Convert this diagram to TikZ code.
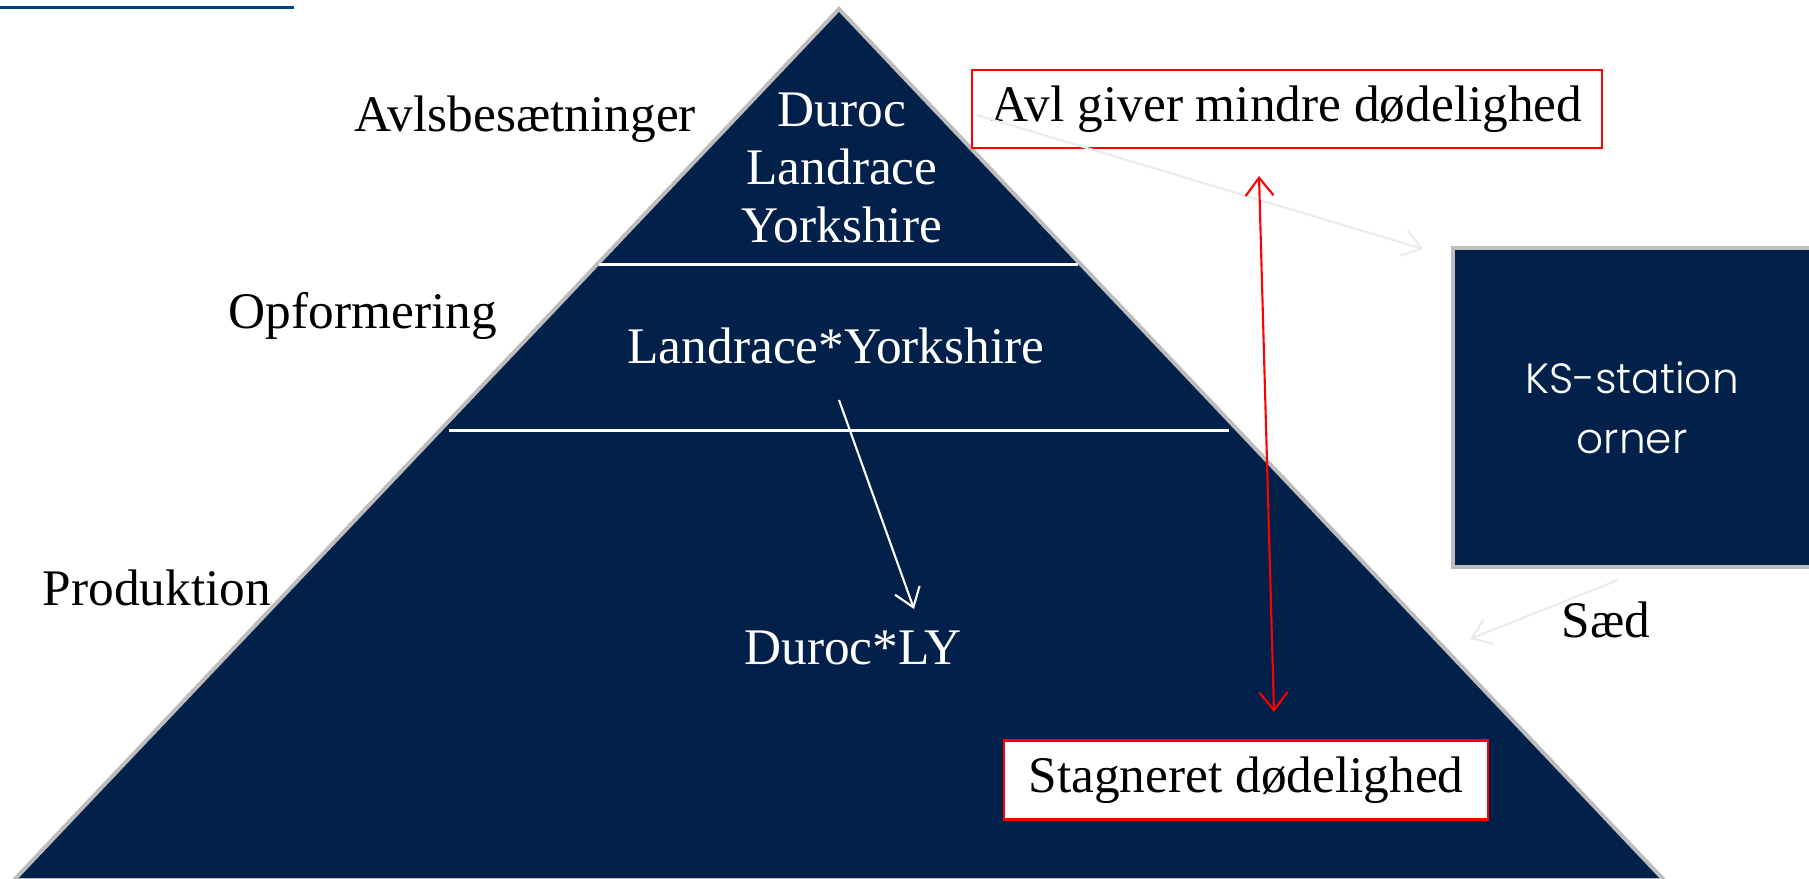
\documentclass[tikz,border=0pt]{standalone}
\usepackage{fontspec}
\setmainfont{Liberation Serif}
\newfontfamily\ksfont{Poppins Light}
\usepackage{tikz}
\usetikzlibrary{arrows.meta}
\definecolor{pyrblue}{HTML}{02214A}
\definecolor{pyredge}{HTML}{BDBDBD}
\definecolor{topline}{HTML}{003F8C}
\definecolor{faint}{HTML}{EBEBEB}

\begin{document}
\begin{tikzpicture}
  [x=0.01cm,y=-0.01cm,
   every node/.style={font=\fontsize{14.6pt}{16.5pt}\selectfont,inner sep=0pt},
   inpyr/.style={text=white,align=center},
   redbox/.style={draw=red,fill=white,line width=0.6pt},
   barb/.style={line width=0.6pt,-{Straight Barb[length=0.18cm,width=0.26cm]}}]
  \useasboundingbox (0,0) rectangle (1809,878);
  \draw[topline,line width=0.03cm] (0,7.5) -- (294,7.5);
  \draw[pyredge,line width=0.04cm,fill=pyrblue] (839,9) -- (1664,880) -- (14,880) -- cycle;
  \draw[white,line width=0.03cm] (599,264) -- (1078,264);
  \draw[white,line width=0.03cm] (449,430) -- (1229,430);
  \node[inpyr] (breeds) at (842,168) {Duroc\\Landrace\\Yorkshire};
  \node[inpyr] (ly) at (836,346) {Landrace*Yorkshire};
  \node[inpyr] (dly) at (853,648) {Duroc*LY};
  \node[anchor=west] (avls) at (354,119) {Avlsbesætninger};
  \node[anchor=west] (opf) at (228,316) {Opformering};
  \node[anchor=west] (prod) at (42,588) {Produktion};
  \node[redbox,minimum width=6.29cm,minimum height=0.78cm] (avl) at (1287,109) {Avl giver mindre dødelighed};
  \node[redbox,minimum width=4.83cm,minimum height=0.79cm] (stag) at (1246,780) {Stagneret dødelighed};
  \node[draw=pyredge,line width=0.04cm,fill=pyrblue,text=white,align=center,
        minimum width=3.58cm,minimum height=3.19cm,
        font=\ksfont\fontsize{12pt}{17pt}\selectfont] (ks) at (1632,407.5) {KS-station\\orner};
  \node (saed) at (1606,620) {Sæd};
  \coordinate (lyout) at (839,400);
  \coordinate (dlyin) at (914,609);
  \coordinate (avlout) at (977,115);
  \coordinate (ksin) at (1423,249);
  \coordinate (ksout) at (1618,580);
  \coordinate (pyrin) at (1470,639);
  \coordinate (avlin) at (1259,176);
  \coordinate (stagin) at (1274,712);
  \draw[barb,white] (lyout) -- (dlyin);
  \draw[barb,faint] (avlout) -- (ksin);
  \draw[barb,faint] (ksout) -- (pyrin);
  \draw[red,line width=0.6pt,{Straight Barb[length=0.18cm,width=0.28cm]}-{Straight Barb[length=0.18cm,width=0.28cm]}] (avlin) -- (stagin);
\end{tikzpicture}
\end{document}
